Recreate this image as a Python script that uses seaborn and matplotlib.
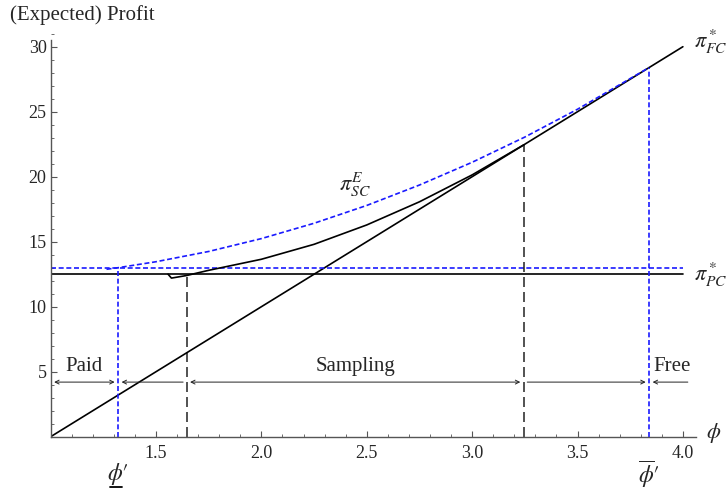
import numpy as np
import pandas as pd
import seaborn as sns
import matplotlib.pyplot as plt
from matplotlib.ticker import MultipleLocator

# full-cover profit line pi*_FC
fc_phi = [1.0, 4.0]
fc_profit = [0.0, 30.0]

# paid-content profit pi*_PC and the blue reference level
pc_profit = 12.5
pc_blue = 13.0

# sampling-case profit pi_SC (black curve, with the small hook at the start)
sc_phi = [1.557, 1.573, 1.645, 1.75, 2.0, 2.25, 2.5, 2.75, 3.0, 3.245]
sc_profit = [12.5, 12.2, 12.4, 12.8, 13.65, 14.8, 16.29, 18.07, 20.14, 22.45]

# expected sampling profit pi^E_SC (blue dashed curve)
esc_phi = [1.265, 1.32, 1.5, 1.75, 2.0, 2.25, 2.5, 2.75, 3.0, 3.25, 3.5, 3.84]
esc_profit = [12.88, 13.0, 13.46, 14.25, 15.24, 16.42, 17.79, 19.36, 21.11, 23.05, 25.19, 28.4]

# thresholds
phi_low = 1.32      # underline phi'
phi_s0 = 1.645
phi_s1 = 3.245
phi_high = 3.84     # overline phi'
phi_end = 4.04

xticks = [1.5, 2.0, 2.5, 3.0, 3.5, 4.0]
yticks = [5, 10, 15, 20, 25, 30]

sns.set_style("ticks")
plt.rcParams["font.family"] = ["Liberation Serif", "DejaVu Serif"]
plt.rcParams["mathtext.fontset"] = "stix"

fig = plt.figure(figsize=(7.27, 4.94), dpi=100)
ax = fig.add_axes([0.0697, 0.116, 0.887, 0.821])

blue = "#1a1aff"
dash_b = (0, (3, 1.6))
dash_k = (0, (6, 3))

sns.lineplot(x=fc_phi, y=fc_profit, color="black", lw=1.2, ax=ax)
ax.plot([1.0, 4.0], [pc_profit, pc_profit], color="black", lw=1.2)
ax.plot([1.0, 4.0], [pc_blue, pc_blue], color=blue, lw=1.2, ls=dash_b)
sns.lineplot(x=sc_phi, y=sc_profit, color="black", lw=1.2, ax=ax, sort=False)
sns.lineplot(x=esc_phi, y=esc_profit, color=blue, lw=1.2, ax=ax, linestyle=dash_b)

# vertical guides
ax.plot([phi_low, phi_low], [0, pc_blue], color=blue, lw=1.2, ls=dash_b)
ax.plot([phi_high, phi_high], [0, esc_profit[-1]], color=blue, lw=1.2, ls=dash_b)
ax.plot([phi_s0, phi_s0], [0, pc_profit], color="black", lw=1.2, ls=dash_k, alpha=0.8)
ax.plot([phi_s1, phi_s1], [0, sc_profit[-1]], color="black", lw=1.2, ls=dash_k, alpha=0.8)

# region arrows
arr_y = 4.2
segments = [(1.0, phi_low, "<->"), (phi_low, phi_s0, "<-"), (phi_s0, phi_s1, "<->"),
            (phi_s1, phi_high, "->"), (phi_high, phi_end, "<-")]
for x0, x1, st in segments:
    ax.annotate("", xy=(x1, arr_y), xytext=(x0, arr_y),
                arrowprops=dict(arrowstyle=st, lw=0.7, color="#222222",
                                shrinkA=2.5, shrinkB=2.5, mutation_scale=7))
ax.text((1.0 + phi_low) / 2, arr_y + 0.5, "Paid", ha="center", va="bottom", fontsize=15)
ax.text((phi_s0 + phi_s1) / 2, arr_y + 0.5, "Sampling", ha="center", va="bottom", fontsize=15)
ax.text(phi_high + 0.02, arr_y + 0.5, "Free", ha="left", va="bottom", fontsize=15)

# curve labels
ax.text(4.055, 30.4, r"$\pi^*_{FC}$", fontsize=16, va="center", ha="left", clip_on=False)
ax.text(4.055, 12.45, r"$\pi^*_{PC}$", fontsize=16, va="center", ha="left", clip_on=False)
ax.text(2.37, 19.4, r"$\pi^E_{SC}$", fontsize=16, va="center", ha="left")
ax.text(4.11, 0.3, r"$\phi$", fontsize=16, va="center", ha="left", clip_on=False)

# threshold labels under the axis
ax.text(phi_low, -2.9, r"$\phi\prime$", fontsize=17, ha="center", va="center", clip_on=False)
ax.plot([phi_low - 0.04, phi_low + 0.02], [-3.9, -3.9], color="black", lw=1.3, clip_on=False)
ax.text(phi_high, -2.9, r"$\overline{\phi}\prime$", fontsize=17, ha="center", va="center",
        clip_on=False)

fig.text(0.0138, 0.99, "(Expected) Profit", fontsize=15, ha="left", va="top")

# axes in Mathematica style
ax.set_xlim(1.0, 4.06)
ax.set_ylim(0, 31.2)
sns.despine(ax=ax)
ax.spines["bottom"].set_bounds(1.0, 4.06)
ax.spines["left"].set_bounds(0, 30.5)
for s in ["bottom", "left"]:
    ax.spines[s].set_color("#555555")
    ax.spines[s].set_linewidth(1.0)
ax.set_xticks(xticks)
ax.set_yticks(yticks)
ax.set_xticklabels([f"{t:.1f}" for t in xticks])
ax.set_yticklabels([str(t) for t in yticks])
ax.xaxis.set_minor_locator(MultipleLocator(0.1))
ax.yaxis.set_minor_locator(MultipleLocator(1))
ax.tick_params(which="major", direction="in", length=4, width=0.8, color="#555555",
               labelsize=13)
ax.tick_params(axis="x", which="major", pad=6)
ax.tick_params(axis="y", which="major", pad=3)
ax.tick_params(which="minor", direction="in", length=2, width=0.6, color="#555555")
ax.set_xlabel("")
ax.set_ylabel("")

fig.savefig("out.png", dpi=100)
